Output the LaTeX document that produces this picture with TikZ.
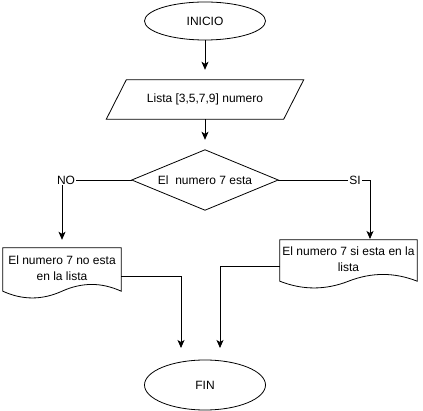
\documentclass[tikz,border=0pt]{standalone}
\usepackage{fontspec}
\setmainfont{Liberation Sans}
\usetikzlibrary{calc,arrows.meta,shapes.geometric}
\tikzset{
  base/.style={font=\fontsize{12}{16}\selectfont, align=center, inner sep=0pt},
  term/.style={base, ellipse, draw, line width=0.8pt, minimum width=121pt},
  boxnode/.style={base, rectangle, draw=none},
  shp/.style={draw, line width=0.8pt},
  arr/.style={draw, line width=0.8pt, -{Stealth[length=8pt,width=7pt,inset=2pt]}},
  lnk/.style={draw, line width=0.8pt},
  lbl/.style={base, fill=white, inner sep=1pt}
}
\begin{document}
\begin{tikzpicture}[x=1pt,y=-1pt]
\useasboundingbox (0,0) rectangle (423,411);
% nodes
\node[term, minimum height=38pt] (ini) at (205,21) {INICIO};
\node[boxnode, minimum width=197pt, minimum height=39pt] (lst) at (205,99.5) {Lista [3,5,7,9] numero};
\node[boxnode, minimum width=146pt, minimum height=60pt] (dia) at (205,180) {El\ \ numero 7 esta};
\node[boxnode, minimum width=118pt, minimum height=40pt] (ldoc) at (62,268) {El numero 7 no esta\\en la lista};
\node[boxnode, minimum width=137pt, minimum height=38pt] (rdoc) at (348.5,259) {El numero 7 si esta en la\\lista};
\node[term, minimum height=50pt] (fin) at (205,385) {FIN};
% shapes
\draw[shp] (lst.south west) -- ($(lst.north west)+(20,0)$) -- (lst.north east) -- ($(lst.south east)+(-20,0)$) -- cycle;
\draw[shp] (dia.west) -- (dia.north) -- (dia.east) -- (dia.south) -- cycle;
\draw[shp] (ldoc.north west) -- (ldoc.north east) -- ($(ldoc.south east)+(0,3)$)
  .. controls ($(ldoc.south east)+(-19.7,-6)$) and ($(ldoc.south east)+(-39.3,-6)$) .. ($(ldoc.south)+(0,3)$)
  .. controls ($(ldoc.south west)+(39.3,12)$) and ($(ldoc.south west)+(19.7,12)$) .. ($(ldoc.south west)+(0,3)$) -- cycle;
\draw[shp] (rdoc.north west) -- (rdoc.north east) -- ($(rdoc.south east)+(0,3)$)
  .. controls ($(rdoc.south east)+(-22.8,-6)$) and ($(rdoc.south east)+(-45.7,-6)$) .. ($(rdoc.south)+(0,3)$)
  .. controls ($(rdoc.south west)+(45.7,12)$) and ($(rdoc.south west)+(22.8,12)$) .. ($(rdoc.south west)+(0,3)$) -- cycle;
% coordinates for free ends
\coordinate (sa) at (370,239);
\coordinate (fa) at (181,348);
\coordinate (fb) at (220,348);
% connectors
\draw[arr, shorten >=10pt] (ini) -- (lst.north);
\draw[arr, shorten >=10pt] (lst.south) -- (dia.north);
\draw[arr, shorten >=8pt] (dia.west) -| (ldoc.north);
\draw[arr] (dia.east) -| (sa);
\draw[arr] ($(ldoc.east)+(0,8)$) -| (fa);
\draw[arr] ($(rdoc.west)+(0,7)$) -| (fb);
% labels
\node[lbl] (no) at (66,180) {NO};
\node[lbl] (si) at (355,180) {SI};
\end{tikzpicture}
\end{document}
